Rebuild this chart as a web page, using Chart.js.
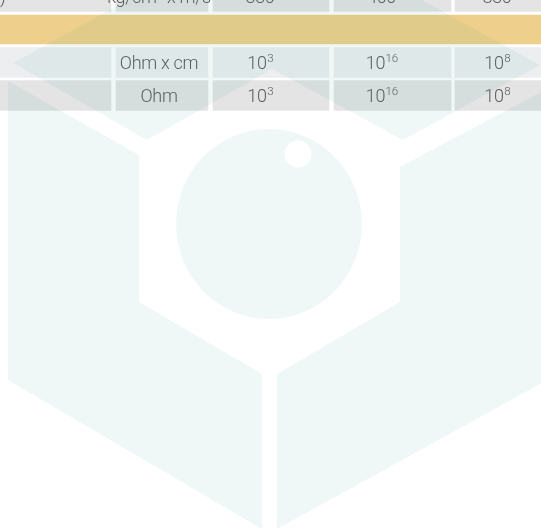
<!DOCTYPE html>
<html>
<head>
<meta charset="utf-8">
<script src="https://cdn.jsdelivr.net/npm/chart.js@4.4.1/dist/chart.umd.min.js"></script>
<style>
  html, body { margin: 0; padding: 0; background: #fff; overflow: hidden; }
  #wrap { position: absolute; left: 0; top: -20px; width: 541px; height: 561px; }
</style>
</head>
<body>
<div id="wrap"><canvas id="tableChart" width="541" height="561"></canvas></div>
<script>
// ----- DATA -----
const rows = ["impedance", "section", "volume", "surface"];
const rowNames = [")", "", "", ""];
const units = ["kg/cm² x m/s", "", "Ohm x cm", "Ohm"];
const colA = ["330", "", "10^3", "10^3"];
const colB = ["400", "", "10^16", "10^16"];
const colC = ["830", "", "10^8", "10^8"];
const bandRow = 1;

// ----- LAYOUT -----
const TOP_SHIFT = 20;          // canvas sits 20px above the page
const ROW_SLOTS = 17;          // 33px per category slot
const colEdges = [[-60, 111], [116, 208], [213, 329], [334, 451], [455, 561]];
const textShift = [0, -3, -11, -11, -11];
const rowFill = ["#e4e4e4", null, "#edeef0", "#e4e4e4"];
const bandFill = "#eecf8b";
const textColor = "#5c5c5c";
const FONT = "300 18px Roboto";
const SUP_FONT = "300 11.5px Roboto";

const columns = [rowNames, units, colA, colB, colC];
const labels = rows.concat(Array(ROW_SLOTS - rows.length).fill(""));

const cellSets = columns.map((col, c) => ({
  label: "col" + c,
  data: rows.map((r, i) => (i === bandRow ? null : colEdges[c])),
  backgroundColor: rows.map((r, i) => rowFill[i] || "transparent"),
  barThickness: 30,
  grouped: false,
  borderSkipped: false
}));

const bandSet = {
  label: "band",
  data: rows.map((r, i) => (i === bandRow ? [0, 541] : null)),
  backgroundColor: bandFill,
  barThickness: 29,
  grouped: false
};

// ----- CELL TEXT -----
function drawValue(ctx, text, cx, cy) {
  const [base, exp] = text.split("^");
  ctx.font = FONT;
  const wb = ctx.measureText(base).width;
  let we = 0;
  if (exp) {
    ctx.font = SUP_FONT;
    we = ctx.measureText(exp).width;
  }
  const x0 = cx - (wb + we) / 2;
  ctx.textAlign = "left";
  ctx.textBaseline = "alphabetic";
  ctx.font = FONT;
  ctx.fillText(base, x0, cy + 6.5);
  if (exp) {
    ctx.font = SUP_FONT;
    ctx.fillText(exp, x0 + wb + 0.5, cy - 0.5);
  }
}

const cellText = {
  id: "cellText",
  afterDatasetsDraw(chart) {
    const ctx = chart.ctx;
    ctx.save();
    ctx.fillStyle = textColor;
    ctx.letterSpacing = "-0.3px";
    columns.forEach((col, c) => {
      const meta = chart.getDatasetMeta(c);
      col.forEach((txt, i) => {
        if (!txt) return;
        const el = meta.data[i];
        if (c === 0) {
          ctx.font = FONT;
          ctx.textAlign = "left";
          ctx.textBaseline = "alphabetic";
          ctx.fillText(txt, 0, el.y + 6.5);
          return;
        }
        const cx = (el.x + el.base) / 2 + textShift[c];
        drawValue(ctx, txt, cx, el.y);
      });
    });
    ctx.restore();
  }
};

// ----- WATERMARK -----
const markPieces = [
  [[8, 81], [8, 380], [262, 529], [262, 374], [139, 302], [139, 155]],
  [[13, 63], [147, 140], [272, 69], [403, 140], [540, 65], [275, -81]],
  [[277, 374], [277, 529], [560, 373], [560, 82], [400, 167], [400, 302]]
];

const watermark = {
  id: "watermark",
  afterDraw(chart) {
    const ctx = chart.ctx;
    ctx.save();
    ctx.translate(0, TOP_SHIFT);
    ctx.fillStyle = "rgba(30,150,140,0.068)";
    markPieces.forEach((pts) => {
      ctx.beginPath();
      pts.forEach((p, k) => (k ? ctx.lineTo(p[0], p[1]) : ctx.moveTo(p[0], p[1])));
      ctx.closePath();
      ctx.fill();
    });
    ctx.beginPath();
    ctx.ellipse(269, 224, 93, 95, 0, 0, Math.PI * 2);
    ctx.moveTo(311.5, 154);
    ctx.arc(298, 154, 13.5, 0, Math.PI * 2);
    ctx.fill("evenodd");
    ctx.restore();
  }
};

new Chart(document.getElementById("tableChart"), {
  type: "bar",
  data: { labels: labels, datasets: cellSets.concat([bandSet]) },
  options: {
    indexAxis: "y",
    responsive: false,
    animation: false,
    layout: { padding: 0 },
    plugins: { legend: { display: false }, tooltip: { enabled: false } },
    scales: {
      x: { type: "linear", min: 0, max: 541, display: false },
      y: { type: "category", display: false, offset: true }
    }
  },
  plugins: [cellText, watermark]
});
</script>
</body>
</html>
